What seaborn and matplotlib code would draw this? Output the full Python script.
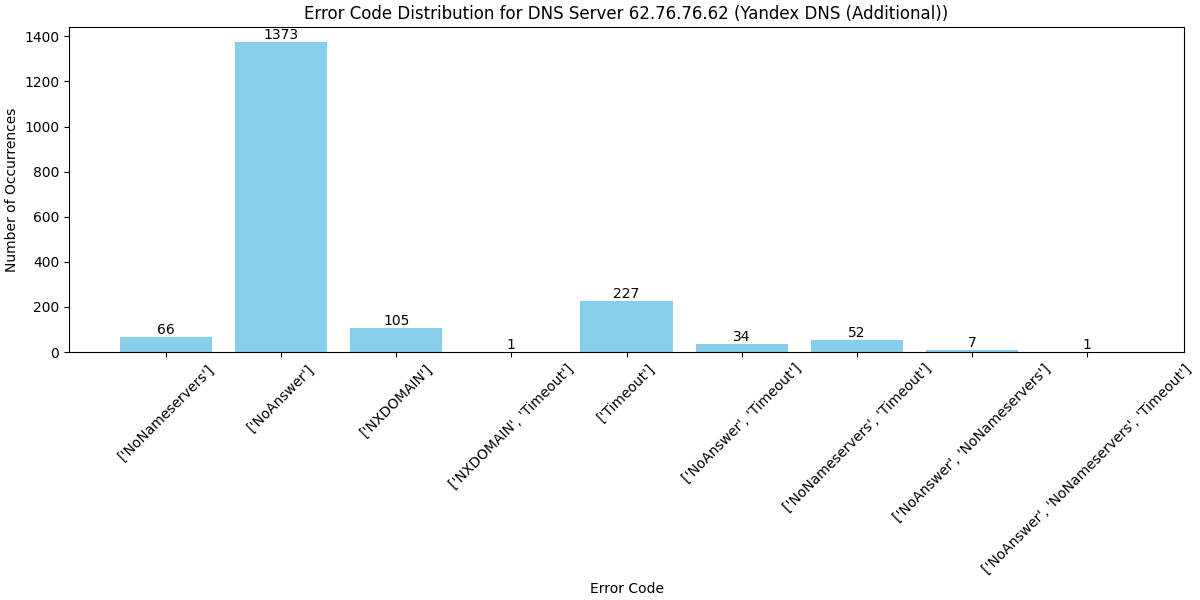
import matplotlib
matplotlib.use("Agg")
import matplotlib.pyplot as plt
import seaborn as sns
import pandas as pd

categories = [
    "['NoNameservers']",
    "['NoAnswer']",
    "['NXDOMAIN']",
    "['NXDOMAIN', 'Timeout']",
    "['Timeout']",
    "['NoAnswer', 'Timeout']",
    "['NoNameservers', 'Timeout']",
    "['NoAnswer', 'NoNameservers']",
    "['NoAnswer', 'NoNameservers', 'Timeout']",
]
counts = [66, 1373, 105, 1, 227, 34, 52, 7, 1]

df = pd.DataFrame({"Error Code": categories, "Count": counts})

fig, ax = plt.subplots(figsize=(12, 6), dpi=100)
sns.barplot(data=df, x="Error Code", y="Count", color="skyblue",
            saturation=1, width=0.8, ax=ax)
for c in ax.containers:
    ax.bar_label(c, labels=[str(v) for v in counts], fontsize=10)
n = len(categories)
pad = 0.05 * (n - 1 + 0.8)
ax.set_xlim(-0.4 - pad, n - 1 + 0.4 + pad)
ax.set_ylim(0, max(counts) * 1.05)
ax.set_title("Error Code Distribution for DNS Server 62.76.76.62 (Yandex DNS (Additional))", fontsize=12)
ax.set_xlabel("Error Code")
ax.set_ylabel("Number of Occurrences")
plt.setp(ax.get_xticklabels(), rotation=45)
fig.subplots_adjust(left=0.0575, right=0.9867, top=0.955, bottom=0.4133)
fig.savefig("out.png", dpi=100)
